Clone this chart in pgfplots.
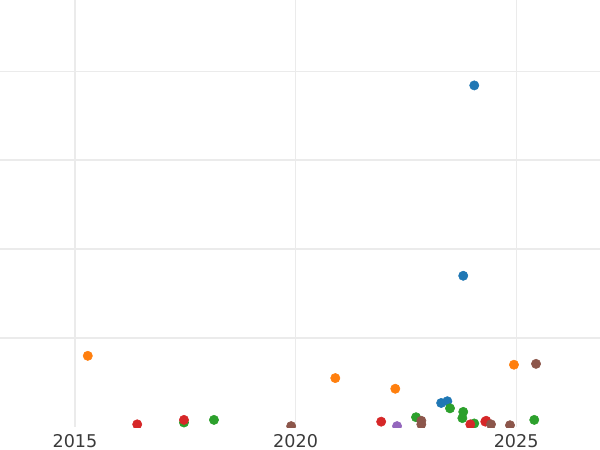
\documentclass[border=0pt]{standalone}
\usepackage{pgfplots}
\pgfplotsset{compat=1.18}
\usepackage{fontspec}
\setmainfont{DejaVu Sans}
\definecolor{cblue}{HTML}{1F77B4}
\definecolor{corange}{HTML}{FF7F0E}
\definecolor{cgreen}{HTML}{2CA02C}
\definecolor{cred}{HTML}{D62728}
\definecolor{cpurple}{HTML}{9467BD}
\definecolor{cbrown}{HTML}{8C564B}
\definecolor{gridc}{HTML}{EBEBEB}
\definecolor{tickc}{HTML}{3A3A3A}
\begin{document}
\begin{tikzpicture}
\begin{axis}[
  scale only axis,
  width=15cm, height=10.675cm,
  xmin=2013.3, xmax=2026.9,
  ymin=0, ymax=4.8,
  axis line style={draw=none},
  tick style={draw=none},
  xtick={2015,2020,2025},
  ytick={1,2,3,4},
  yticklabels={},
  grid=major,
  major grid style={color=gridc, line width=0.9pt},
  /pgf/number format/1000 sep={},
  /pgf/number format/assume math mode=true,
  xticklabel style={font=\fontsize{12.5}{12.5}\selectfont, text=tickc, yshift=-1.5pt},
  clip marker paths=true,
  every axis plot/.append style={only marks, mark=*, mark size=3.3pt},
]
\addplot[color=cblue] coordinates {(2024.05,3.84) (2023.80,1.70) (2023.30,0.27) (2023.44,0.29)};
\addplot[color=corange] coordinates {(2015.29,0.80) (2020.90,0.55) (2022.26,0.43) (2024.95,0.70)};
\addplot[color=cgreen] coordinates {(2017.47,0.05) (2018.15,0.08) (2022.73,0.11) (2023.50,0.21) (2023.80,0.17) (2023.78,0.10) (2024.05,0.04) (2025.41,0.08)};
\addplot[color=cred] coordinates {(2016.41,0.03) (2017.47,0.08) (2021.94,0.06) (2023.96,0.03) (2024.32,0.07) (2024.30,0.06)};
\addplot[color=cpurple] coordinates {(2022.30,0.01)};
\addplot[color=cbrown] coordinates {(2025.45,0.71) (2019.90,0.01) (2022.85,0.07) (2022.85,0.03) (2024.43,0.03) (2024.86,0.02)};
\end{axis}
\pgfresetboundingbox
\path (0,-0.575cm) rectangle (15cm,10.675cm);
\end{tikzpicture}
\end{document}
